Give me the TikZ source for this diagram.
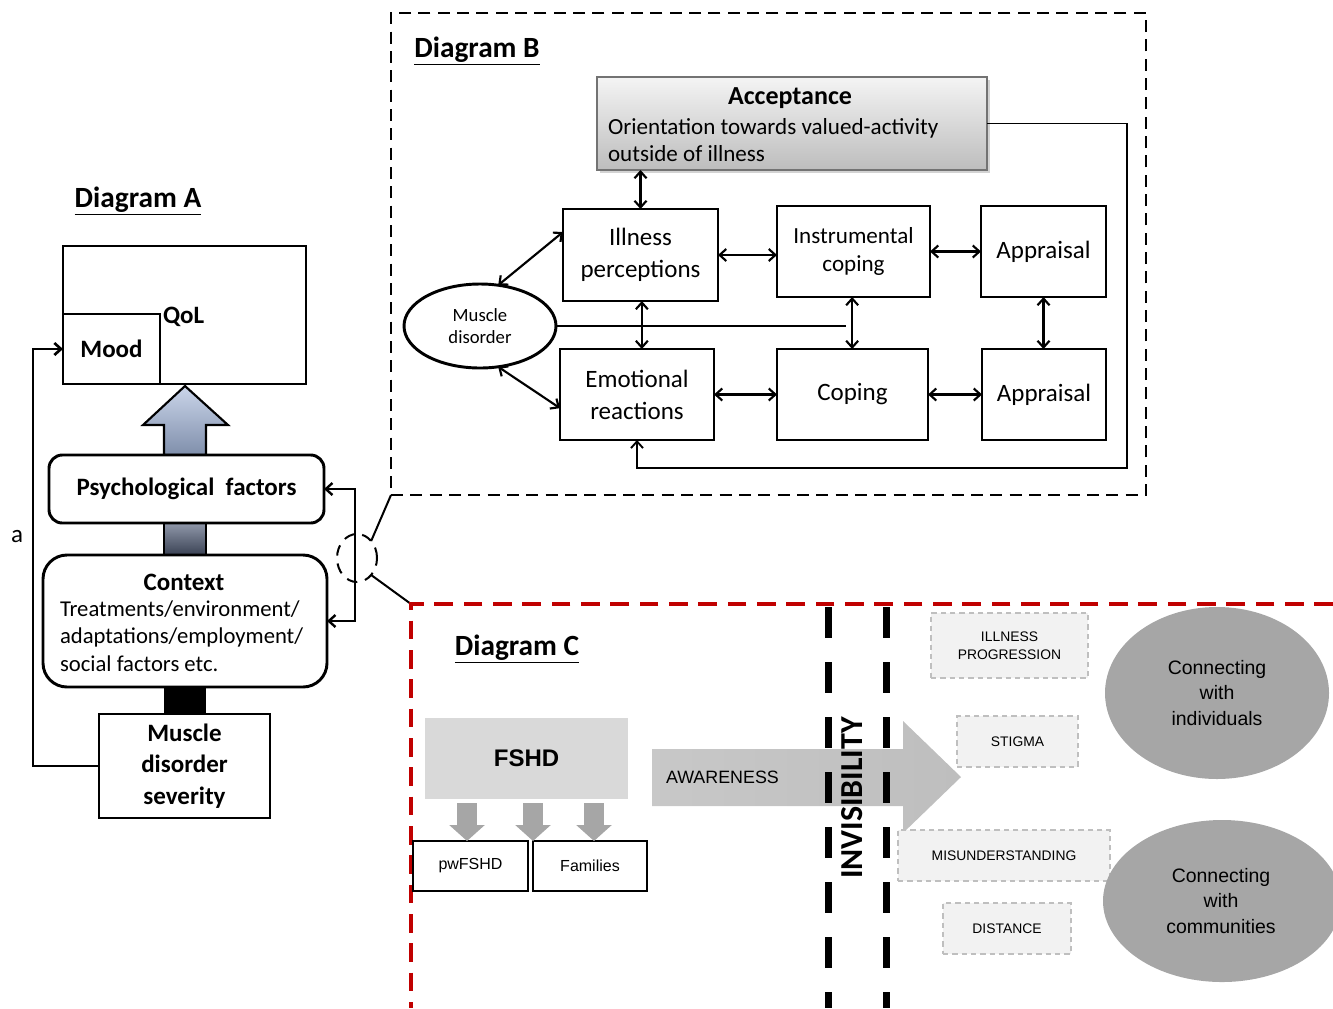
\documentclass[tikz,border=0pt]{standalone}
\usepackage{fontspec}
\setmainfont{Carlito}
\newfontfamily\arialf{Liberation Sans}
\usetikzlibrary{arrows.meta,calc,shapes.geometric,shadows}
\newcommand\fs[2]{\fontsize{#1}{#2}\selectfont}
\newcommand\pxu{0.75pt}
% box from pixel corners: name, x1, y1, x2, y2, style, text
\newcommand\mkbox[7]{\node[#6, minimum width={(#4-#2)*0.75pt}, minimum height={(#5-#3)*0.75pt}] (#1) at ({(#2+#4)/2},{(#3+#5)/2}) {#7};}
\definecolor{redframe}{HTML}{C00000}
\definecolor{bluetop}{HTML}{CBD5EA}
\definecolor{bluebot}{HTML}{7F8FAB}
\definecolor{slatetop}{HTML}{9098AA}
\definecolor{slatebot}{HTML}{3A4254}
\definecolor{acctop}{HTML}{F4F4F4}
\definecolor{accbot}{HTML}{BDBDBD}
\definecolor{fshdgray}{HTML}{D9D9D9}
\definecolor{midgray}{HTML}{A6A6A6}
\definecolor{awgray}{HTML}{BEBEBE}
\definecolor{lblfill}{HTML}{F2F2F2}
\definecolor{lbldraw}{HTML}{BFBFBF}
\tikzset{
  every node/.style={inner sep=0pt, outer sep=0pt},
  abox/.style={draw, line width=2.2pt},
  bbox/.style={draw, line width=2.2pt},
  tip/.tip={Straight Barb[length=5pt,width=9pt]},
  barr/.style={line width=1.6pt, tip-tip},
  sarr/.style={line width=1.6pt, -tip},
  gbox/.style={draw=lbldraw, fill=lblfill, dash pattern=on 4pt off 3pt, line width=0.9pt},
  darr/.style={line width=15pt, draw=midgray, -{Triangle[width=26pt,length=12pt]}},
  title/.style={font=\fs{22}{26}\bfseries},
  aboldf/.style={font=\fs{18.75}{23.5}\bfseries},
  btxt/.style={font=\fs{18.75}{24}},
  lbl/.style={font=\arialf\fs{10.4}{13.5}},
  conn/.style={font=\arialf\fs{14.6}{19}, align=center},
  ellg/.style={ellipse, fill=midgray},
}
\begin{document}
\begin{tikzpicture}[x=0.75pt,y=-0.75pt]
\useasboundingbox (0,0) rectangle (1333,1008);

%% ================= Diagram A =================
\node[title] (tA) at (138,201) {\underline{Diagram A}};
% shafts
\shade[top color=bluetop, bottom color=bluebot, draw=black, line width=1.6pt]
  (164,455) -- (164,425) -- (143,425) -- (185,386) -- (228,425) -- (206,425) -- (206,455) -- cycle;
\shade[top color=slatetop, bottom color=slatebot, draw=black, line width=1.6pt]
  (164,523) rectangle (206,555);
\fill[black] (164,687) rectangle (206,714);
% boxes
\mkbox{qol}{63}{246}{306}{384}{abox}{}
\mkbox{mood}{63}{314}{160}{384}{abox, aboldf}{Mood}
\node[aboldf, anchor=west] (qoltxt) at (163,317) {QoL};
\mkbox{psy}{49}{455}{324}{523}{abox, aboldf, rounded corners=10pt, fill=white}{Psychological\ \ factors}
\mkbox{ctx}{43}{555}{327}{687}{abox, rounded corners=18pt, fill=white}{}
\node[aboldf] (ctxh) at (184,582) {Context};
\node[font=\fs{17}{20.6}, anchor=west, align=left] (ctxt) at (60,636)
  {Treatments/environment/\\adaptations/employment/\\social factors etc.};
\mkbox{mus}{99}{714}{270}{818}{abox, aboldf, align=center}{Muscle\\disorder\\severity}
% path a
\coordinate (aleft) at (33,0);
\draw[sarr, line width=2pt] (mus.west) -- (mus.west -| aleft) -- (mood.west -| aleft) -- (mood.west);
\node[font=\fs{18.75}{22}] (alab) at (17,537) {a};
% bracket
\coordinate (brk) at (355,0);
\draw[barr, line width=1.8pt] (psy.east) -- (psy.east -| brk) -- (ctx.east -| brk) -- (ctx.east);

%% ================= Diagram B =================
\mkbox{frB}{391}{13}{1146}{495}{draw, line width=2.2pt, dash pattern=on 9pt off 5.5pt}{}
\node[title] (tB) at (477,51) {\underline{Diagram B}};
\mkbox{acc}{597}{77}{987}{170}{draw=black!55, line width=1pt, top color=acctop, bottom color=accbot, drop shadow={opacity=0.35, shadow xshift=2pt, shadow yshift=-2pt}}{}
\node[font=\fs{19.5}{23}\bfseries] (acch) at (790,98) {Acceptance};
\node[font=\fs{17.3}{20.5}, anchor=west, align=left] (acct) at (608,140)
  {Orientation towards valued-activity\\outside of illness};
\mkbox{ip}{563}{209}{718}{301}{bbox, btxt, align=center}{Illness\\perceptions}
\mkbox{ic}{777}{206}{930}{297}{bbox, font=\fs{17.3}{21}, align=center}{Instrumental\\coping}
\mkbox{ap1}{981}{206}{1106}{297}{bbox, btxt}{Appraisal}
\node[bbox, ellipse, font=\fs{14}{17}, align=center, minimum width=152*\pxu, minimum height=84*\pxu] (md) at (480,326) {Muscle\\disorder};
\mkbox{er}{560}{349}{714}{440}{bbox, btxt, align=center}{Emotional\\reactions}
\mkbox{cp}{777}{349}{928}{440}{bbox, btxt}{Coping}
\mkbox{ap2}{982}{349}{1106}{440}{bbox, btxt}{Appraisal}
% arrows
\draw[barr] (ip.north) -- (ip.north |- acc.south);
\draw[barr] ([xshift=1pt]ip.south) -- ([xshift=1pt]ip.south |- er.north);
\draw[barr] (ip.east) -- (ip.east -| ic.west);
\draw[barr] (ic.east) -- (ic.east -| ap1.west);
\draw[barr] (er.east) -- (er.east -| cp.west);
\draw[barr] (cp.east) -- (cp.east -| ap2.west);
\draw[barr] (ap1.south) -- (ap1.south |- ap2.north);
\draw[barr] ([xshift=-1pt]ic.south) -- ([xshift=-1pt]ic.south |- cp.north);
\draw[barr] (md.66) -- ($(ip.north west)!0.25!(ip.south west)$);
\draw[barr] (md.-66) -- ($(er.north west)!0.65!(er.south west)$);
\coordinate (mdend) at (846,326);
\draw[line width=1.3pt] (md.east) -- (mdend);
\coordinate (fb) at (1127,468);
\draw[sarr, line width=1.4pt] (acc.east) -| (fb) -| (er.south);

%% ================= zoom link =================
\node[ellipse, draw, line width=1.5pt, dash pattern=on 8pt off 6pt, minimum width=40*\pxu, minimum height=48*\pxu] (zm) at (357,558) {};
\coordinate (Ccorner) at (411,604);
\draw[line width=1.5pt] (frB.south west) -- (zm.north east);
\draw[line width=1.5pt] (zm.south east) -- (Ccorner);

%% ================= Diagram C =================
\draw[redframe, line width=3pt, dash pattern=on 14pt off 8pt] (1333,604) -- (Ccorner) -- (411,1008);
\node[title] (tC) at (517,649) {\underline{Diagram C}};
\mkbox{fshd}{425}{718}{628}{799}{fill=fshdgray, font=\arialf\fs{18}{21}\bfseries}{FSHD}
\mkbox{pw}{413}{841}{528}{891}{draw, line width=1pt, font=\arialf\fs{12}{14}}{pwFSHD}
\mkbox{fam}{533}{841}{647}{891}{draw, line width=1pt, font=\arialf\fs{12}{14}}{Families}
\coordinate (d1) at (467,0);
\coordinate (d2) at (533,0);
\coordinate (d3) at (594,0);
\draw[darr, shorten <=3pt] (d1 |- fshd.south) -- (d1 |- pw.north);
\draw[darr, shorten <=3pt] (d2 |- fshd.south) -- (d2 |- pw.north);
\draw[darr, shorten <=3pt] (d3 |- fshd.south) -- (d3 |- fam.north);
% awareness arrow
\shade[left color=awgray!85, right color=awgray]
  (652,749) -- (903,749) -- (903,721) -- (961,777) -- (903,833) -- (903,806) -- (652,806) -- cycle;
\node[font=\arialf\fs{13.4}{16}, anchor=west] (aw) at (666,777) {AWARENESS};
% invisibility lines
\draw[line width=5.25pt, dash pattern=on 23.25pt off 18pt] (828,607) -- (828,1008);
\draw[line width=5.25pt, dash pattern=on 23.25pt off 18pt] (886,607) -- (886,1008);
\node[rotate=90, font=\fs{24}{28}\bfseries] (inv) at (852,798) {INVISIBILITY};
% labels
\mkbox{ilp}{931}{613}{1088}{678}{gbox, lbl, align=center}{ILLNESS\\PROGRESSION}
\mkbox{stg}{957}{716}{1078}{767}{gbox, lbl}{STIGMA}
\mkbox{mis}{898}{830}{1110}{881}{gbox, lbl}{MISUNDERSTANDING}
\mkbox{dst}{943}{903}{1071}{954}{gbox, lbl}{DISTANCE}
% ellipses
\node[ellg, conn, minimum width=224*\pxu, minimum height=172*\pxu] (ci) at (1217,693) {Connecting\\with\\individuals};
\node[ellg, minimum width=238*\pxu, minimum height=162*\pxu] (cc) at (1222,901) {};
\node[conn] (cct) at (1221,901) {Connecting\\with\\communities};
\end{tikzpicture}
\end{document}
